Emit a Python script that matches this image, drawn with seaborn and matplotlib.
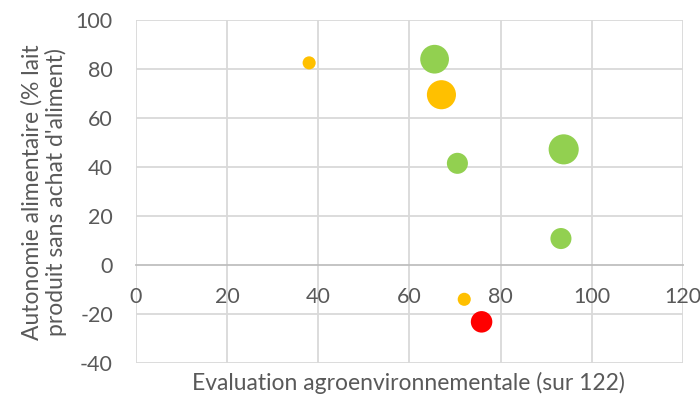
import matplotlib
matplotlib.use("Agg")
import matplotlib.pyplot as plt
import seaborn as sns
import pandas as pd

# Farms: agro-environmental score vs. feed autonomy, bubble size = herd weight
evaluation = [38, 65.5, 67, 70.5, 93.8, 93.2, 72, 75.8]
autonomie = [82.5, 84, 69.5, 41.5, 47.2, 10.8, -14, -23.2]
taille = [17, 82, 84, 44, 90, 44, 17, 46]
groupe = ["orange", "vert", "orange", "vert", "vert", "vert", "orange", "rouge"]

couleurs = {"vert": "#92D050", "orange": "#FFC000", "rouge": "#FF0000"}

x_ticks = [0, 20, 40, 60, 80, 100, 120]
y_ticks = [-40, -20, 0, 20, 40, 60, 80, 100]

df = pd.DataFrame({"evaluation": evaluation, "autonomie": autonomie,
                   "taille": taille, "groupe": groupe})

sns.set_theme(style="white")
plt.rcParams["font.family"] = ["Lato", "DejaVu Sans"]
plt.rcParams["axes.unicode_minus"] = False

fig = plt.figure(figsize=(7, 4), dpi=100)
ax = fig.add_axes([0.194, 0.0925, 0.782, 0.8575])

grid_col = "#D9D9D9"
for v in x_ticks:
    ax.axvline(v, color=grid_col, lw=1.3, zorder=0)
for v in y_ticks:
    if v != 0:
        ax.axhline(v, color=grid_col, lw=1.3, zorder=0)

sns.scatterplot(data=df, x="evaluation", y="autonomie", hue="groupe",
                palette=couleurs, size="taille", sizes=(0, 470),
                size_norm=(0, 90), legend=False, linewidth=0, alpha=1,
                ax=ax, zorder=3)

ax.set_xlim(0, 120)
ax.set_ylim(-40, 100)
ax.set_xticks(x_ticks)
ax.set_yticks(y_ticks)

for s in ["left", "right", "top"]:
    ax.spines[s].set_visible(False)
ax.spines["bottom"].set_position(("data", 0))
ax.spines["bottom"].set_color("#BFBFBF")
ax.spines["bottom"].set_linewidth(1.3)
ax.spines["bottom"].set_zorder(1)

ax.tick_params(axis="x", length=0, pad=16, labelsize=15.5, labelcolor="#595959")
ax.tick_params(axis="y", length=0, pad=16.5, labelsize=15.5, labelcolor="#595959")

ax.set_xlabel("")
ax.set_ylabel("")
fig.text(0.583, 0.043, "Evaluation agroenvironnementale (sur 122)",
         ha="center", va="center", fontsize=16.5, color="#595959")
fig.text(0.063, 0.52, "Autonomie alimentaire (% lait\nproduit sans achat d'aliment)",
         ha="center", va="center", rotation=90, fontsize=16.5, color="#595959",
         linespacing=1.1, multialignment="center")

fig.savefig("out.png", dpi=100)
